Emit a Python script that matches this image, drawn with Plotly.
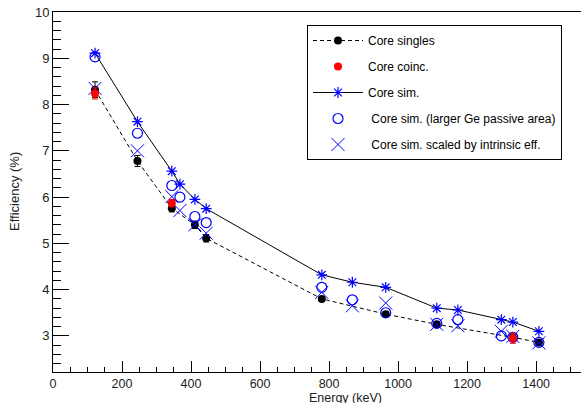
import plotly.graph_objects as go

# ---- data ----
E_singles = [121.8, 244.7, 344.3, 411.1, 444.0, 778.9, 964.1, 1112.1, 1332.5, 1408.0]
eff_singles = [8.32, 6.78, 5.76, 5.40, 5.11, 3.80, 3.47, 3.25, 2.97, 2.86]
err_singles = [0.17, 0.12, 0.08, 0.08, 0.08, 0.05, 0.05, 0.05, 0.05, 0.05]

E_coinc = [121.8, 344.3, 1332.5]
eff_coinc = [8.24, 5.87, 2.95]
err_coinc = [0.12, 0.08, 0.11]

E_sim = [121.8, 244.7, 344.3, 367.8, 411.1, 444.0, 778.9, 867.4, 964.1,
         1112.1, 1173.2, 1299.1, 1332.5, 1408.0]
eff_sim = [9.11, 7.63, 6.56, 6.28, 5.95, 5.75, 4.32, 4.16, 4.05,
           3.60, 3.56, 3.35, 3.30, 3.10]
eff_sim_large = [9.03, 7.38, 6.25, 6.00, 5.58, 5.45, 4.05, 3.78, 3.50,
                 3.27, 3.35, 3.00, 2.97, 2.86]
eff_sim_scaled = [8.35, 7.00, 6.01, 5.71, 5.40, 5.22, 3.94, 3.65, 3.71,
                  3.25, 3.22, 3.10, 2.99, 2.85]

x_ticks = [0, 200, 400, 600, 800, 1000, 1200, 1400]
y_ticks = [3, 4, 5, 6, 7, 8, 9, 10]

BLUE = "#0000ff"
FONT = "Liberation Sans, Arial, Helvetica, sans-serif"
TXT = "#222"

fig = go.Figure()

fig.add_trace(go.Scatter(
    x=E_singles, y=eff_singles, mode="lines+markers", name="Core singles",
    line=dict(color="black", width=1, dash="4px,3px"),
    marker=dict(symbol="circle", color="black", size=8),
    error_y=dict(type="data", array=err_singles, color="black", thickness=1, width=3),
    legendgroup="a", legendrank=1))

fig.add_trace(go.Scatter(
    x=E_sim, y=eff_sim, mode="lines+markers", name="Core sim.",
    line=dict(color="black", width=1),
    marker=dict(symbol="asterisk-open", color=BLUE, size=9, line=dict(color=BLUE, width=1.2)),
    legendgroup="c", legendrank=3))

fig.add_trace(go.Scatter(
    x=E_sim, y=eff_sim_large, mode="markers", name=" Core sim. (larger Ge passive area)",
    marker=dict(symbol="circle-open", color=BLUE, size=10, line=dict(color=BLUE, width=1.2)),
    legendgroup="d", legendrank=4))

fig.add_trace(go.Scatter(
    x=E_sim, y=eff_sim_scaled, mode="markers", name=" Core sim. scaled by intrinsic eff.",
    marker=dict(symbol="x-thin-open", color=BLUE, size=13, line=dict(color=BLUE, width=1)),
    legendgroup="e", legendrank=5))

fig.add_trace(go.Scatter(
    x=E_coinc, y=eff_coinc, mode="markers", name="Core coinc.",
    marker=dict(symbol="circle", color="red", size=8),
    error_y=dict(type="data", array=err_coinc, color="red", thickness=1, width=3),
    legendgroup="b", legendrank=2))

W, H = 581, 403
L, T, B = 53, 12, 31
PW = W - L
PH = H - T - B

fig.update_layout(
    width=W, height=H,
    margin=dict(l=L, r=0, t=T, b=B),
    paper_bgcolor="white", plot_bgcolor="white",
    font=dict(family=FONT, size=13, color="black"),
    showlegend=True,
    legend=dict(
        x=(307 - L) / PW, y=1 - (25 - T) / PH, xanchor="left", yanchor="top",
        bgcolor="white", bordercolor="black", borderwidth=1,
        font=dict(family=FONT, size=12, color="black"),
        traceorder="grouped", tracegroupgap=7, itemwidth=50,
    ),
)

fig.update_xaxes(
    range=[0, 1530], tickvals=x_ticks, ticktext=[str(v) for v in x_ticks],
    showgrid=False, zeroline=False, showline=True, linecolor="black", linewidth=1,
    mirror=True, ticks="inside", ticklen=11, tickcolor="black", tickwidth=1,
    minor=dict(dtick=50, tick0=0, ticks="inside", ticklen=5, tickcolor="black", showgrid=False),
    tickfont=dict(size=12.5, color=TXT), ticklabeloverflow="allow",
)
fig.update_yaxes(
    range=[2.22, 10], tickvals=y_ticks, ticktext=[str(v) for v in y_ticks],
    showgrid=False, zeroline=False, showline=True, linecolor="black", linewidth=1,
    mirror=False, ticks="inside", ticklen=16, tickcolor="black", tickwidth=1,
    minor=dict(dtick=0.2, tick0=0, ticks="inside", ticklen=8, tickcolor="black", showgrid=False),
    tickfont=dict(size=13, color=TXT), ticklabeloverflow="allow",
)

fig.add_annotation(text="Energy (keV)", xref="paper", yref="paper",
                   x=(345 - L) / PW, y=0, yshift=-17, xanchor="center", yanchor="top",
                   showarrow=False, font=dict(size=12.5, color=TXT))
fig.add_annotation(text="Efficiency (%)", xref="paper", yref="paper",
                   x=0, xshift=-39, y=0.5, textangle=-90, xanchor="center", yanchor="middle",
                   showarrow=False, font=dict(size=13, color=TXT))

# remove the browser's default 8px body margin so the figure fills the window
fig.write_html("out.html",
               config={"displayModeBar": False},
               post_script="document.body.style.margin='0';document.body.style.overflow='hidden';")
